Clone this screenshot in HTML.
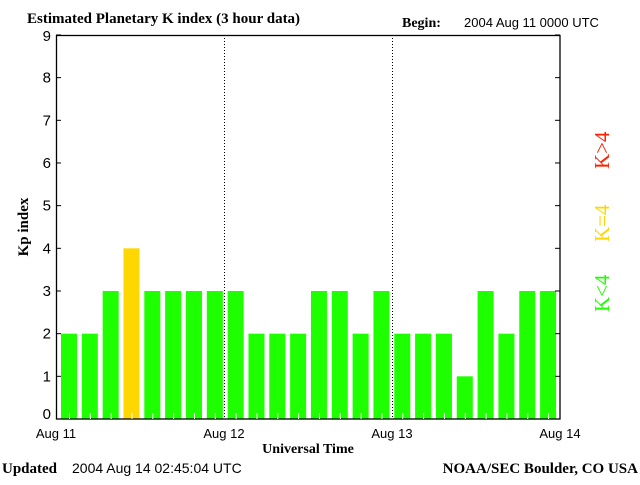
<!DOCTYPE html><html><head><style>body{margin:0;background:#fff}</style></head><body>
<svg width="640" height="480" xmlns="http://www.w3.org/2000/svg" font-family="Liberation Sans, sans-serif">
<text x="27" y="23" font-family="Liberation Serif, serif" font-weight="bold" font-size="15">Estimated Planetary K index (3 hour data)</text>
<text x="402" y="27" font-family="Liberation Serif, serif" font-weight="bold" font-size="14">Begin:</text>
<text x="464" y="27" font-size="13">2004 Aug 11 0000 UTC</text>
<g id="bars"></g>
<line x1="224.5" y1="35" x2="224.5" y2="419" stroke="#000" stroke-dasharray="1,2"/>
<line x1="392.5" y1="35" x2="392.5" y2="419" stroke="#000" stroke-dasharray="1,2"/>
<rect x="56.5" y="35.5" width="503.5" height="383.5" fill="none" stroke="#000" stroke-width="1.3"/>
<g id="ticks" stroke="#000"></g>
<g font-size="15" text-anchor="end" id="yl"></g>
<text x="28" y="227" font-family="Liberation Serif, serif" font-weight="bold" font-size="15" transform="rotate(-90 28 227)" text-anchor="middle">Kp index</text>
<g font-size="13" text-anchor="middle"><text x="56" y="438">Aug 11</text><text x="224" y="438">Aug 12</text><text x="392" y="438">Aug 13</text><text x="560" y="438">Aug 14</text></g>
<text x="308" y="453" font-family="Liberation Serif, serif" font-weight="bold" font-size="14" text-anchor="middle">Universal Time</text>
<text x="2" y="473" font-family="Liberation Serif, serif" font-weight="bold" font-size="15">Updated</text>
<text x="72" y="473" font-size="14">2004 Aug 14 02:45:04 UTC</text>
<text x="638" y="473" font-family="Liberation Serif, serif" font-weight="bold" font-size="15" text-anchor="end">NOAA/SEC Boulder, CO USA</text>
<g font-family="Liberation Serif, serif" font-size="21">
<text transform="translate(609 312) rotate(-90)" fill="#1eff00">K&lt;4</text>
<text transform="translate(609 242) rotate(-90)" fill="#ffd700">K=4</text>
<text transform="translate(609 169) rotate(-90)" fill="#ff2000">K&gt;4</text>
</g>
</svg>
<script>
var v=[2,2,3,4,3,3,3,3,3,2,2,2,3,3,2,3,2,2,2,1,3,2,3,3],u=42.67,b='',t='',l='';
v.forEach(function(k,i){var x=61+20.83*i,h=k*u;b+='<rect x="'+x+'" y="'+(419-h)+'" width="16" height="'+h+'" fill="'+(k==4?'#ffd700':k>4?'#ff2000':'#1eff00')+'"/>';t+='<line x1="'+(x+8.5)+'" y1="419" x2="'+(x+8.5)+'" y2="413" stroke="#fff"/>';});
for(var k=0;k<=9;k++){var y=419-k*u;t+='<line x1="56" y1="'+y+'" x2="61" y2="'+y+'"/><line x1="560" y1="'+y+'" x2="555" y2="'+y+'"/>';l+='<text x="51" y="'+(y+(k==9?6:(k==0?0:5)))+'">'+k+'</text>';}
document.getElementById('bars').innerHTML=b;document.getElementById('ticks').innerHTML=t;document.getElementById('yl').innerHTML=l;
</script>
</body></html>
